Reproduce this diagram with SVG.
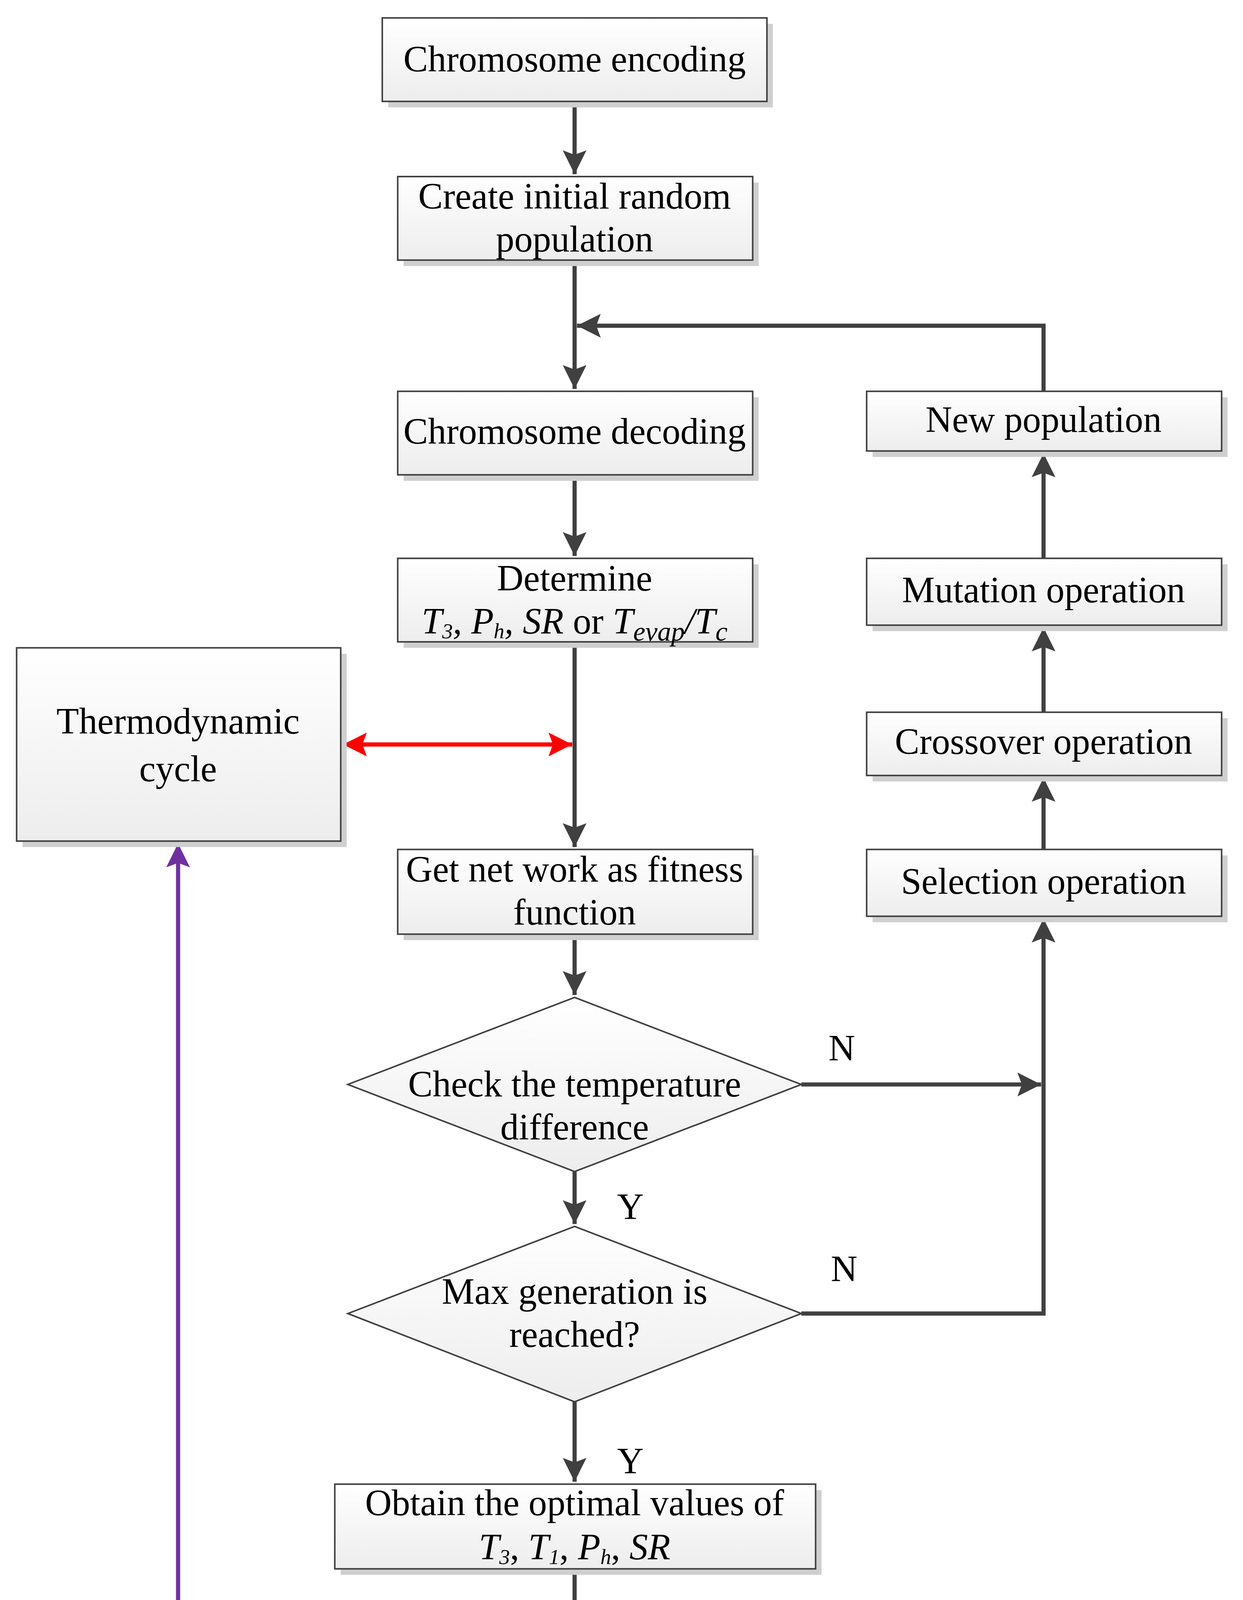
<svg xmlns="http://www.w3.org/2000/svg" width="3183" height="4789" viewBox="0 0 3183 4789">
<style>
.b{fill:url(#g);stroke:#404040;stroke-width:1.3}
.s{fill:#cfcfcf}
text{font-family:"Liberation Serif","Times New Roman",serif;font-size:31px;fill:#000;text-anchor:middle}
.i{font-style:italic}
.c{fill:none;stroke:#404040;stroke-width:3.5}
</style>
<defs>
<linearGradient id="g" x1="0" y1="0" x2="0" y2="1"><stop offset="0" stop-color="#ffffff"/><stop offset="1" stop-color="#ededed"/></linearGradient>
<marker id="a" markerUnits="userSpaceOnUse" markerWidth="20" markerHeight="20" refX="16" refY="8" orient="auto-start-reverse" viewBox="0 0 16 16"><path d="M0,0 L16,8 L0,16 L3,8 Z" fill="#404040"/></marker>
<marker id="r" markerUnits="userSpaceOnUse" markerWidth="20" markerHeight="20" refX="16" refY="8" orient="auto-start-reverse" viewBox="0 0 16 16"><path d="M0,0 L16,8 L0,16 L3,8 Z" fill="#ff0000"/></marker>
<marker id="p" markerUnits="userSpaceOnUse" markerWidth="20" markerHeight="20" refX="16" refY="8" orient="auto-start-reverse" viewBox="0 0 16 16"><path d="M0,0 L16,8 L0,16 L3,8 Z" fill="#7030a0"/></marker>
</defs>
<rect width="3183" height="4789" fill="#fff"/>
<g transform="scale(3.0401,3.0542)">
<g id="connectors">
<path class="c" d="M484,85V146" marker-end="url(#a)"/>
<path class="c" d="M484,218V326" marker-end="url(#a)"/>
<path class="c" d="M879,328V273H486" marker-end="url(#a)"/>
<path class="c" d="M484,398V466" marker-end="url(#a)"/>
<path class="c" d="M484,538V710" marker-end="url(#a)"/>
<path fill="none" stroke="#ff0000" stroke-width="3.5" d="M289,624H482" marker-start="url(#r)" marker-end="url(#r)"/>
<path class="c" d="M484,783V834" marker-end="url(#a)"/>
<path class="c" d="M675,909H877" marker-end="url(#a)"/>
<path class="c" d="M484,982V1026" marker-end="url(#a)"/>
<path class="c" d="M675,1101H879V770" marker-end="url(#a)"/>
<path class="c" d="M879,712V652" marker-end="url(#a)"/>
<path class="c" d="M879,597V526" marker-end="url(#a)"/>
<path class="c" d="M879,468V380" marker-end="url(#a)"/>
<path class="c" d="M484,1175V1242" marker-end="url(#a)"/>
<path class="c" d="M484,1315V1388" marker-end="url(#a)"/>
<path fill="none" stroke="#7030a0" stroke-width="3.5" d="M150,707V1352H482" marker-start="url(#p)" marker-end="url(#p)"/>
<text x="709" y="889">N</text>
<text x="711" y="1074">N</text>
<text x="531" y="1022">Y</text>
<text x="531" y="1235">Y</text>
</g>
<g id="n1"><rect class="s" x="327" y="20" width="324" height="70"/><rect class="b" x="322" y="15" width="324" height="70"/><text x="484" y="60">Chromosome encoding</text></g>
<g id="n2"><rect class="s" x="340" y="153" width="299" height="70"/><rect class="b" x="335" y="148" width="299" height="70"/><text x="484" y="175">Create initial random</text><text x="484" y="211">population</text></g>
<g id="n3"><rect class="s" x="340" y="333" width="299" height="70"/><rect class="b" x="335" y="328" width="299" height="70"/><text x="484" y="372">Chromosome decoding</text></g>
<g id="n4"><rect class="s" x="340" y="473" width="299" height="70"/><rect class="b" x="335" y="468" width="299" height="70"/><text x="484" y="495">Determine</text><text x="484" y="531"><tspan class="i">T</tspan><tspan class="i" font-size="18" dy="4">3</tspan><tspan class="i" dy="-4">, P</tspan><tspan class="i" font-size="18" dy="4">h</tspan><tspan class="i" dy="-4">, SR</tspan> or <tspan class="i">T</tspan><tspan class="i" font-size="23" dy="6">evap</tspan><tspan class="i" dy="-6">/T</tspan><tspan class="i" font-size="23" dy="6">c</tspan></text></g>
<g id="n5"><rect class="s" x="19" y="548" width="273" height="162"/><rect class="b" x="14" y="543" width="273" height="162"/><text x="150" y="615" font-size="38">Thermodynamic</text><text x="150" y="655" font-size="38">cycle</text></g>
<g id="n6"><rect class="s" x="340" y="717" width="299" height="71"/><rect class="b" x="335" y="712" width="299" height="71"/><text x="484" y="739">Get net work as fitness</text><text x="484" y="775">function</text></g>
<g id="n7"><path d="M484,836L675,909L484,982L293,909Z" class="b"/><text x="484" y="919">Check the temperature</text><text x="484" y="955">difference</text></g>
<g id="n8"><path d="M484,1028L675,1101L484,1175L293,1101Z" class="b"/><text x="484" y="1093">Max generation is</text><text x="484" y="1129">reached?</text></g>
<g id="n9"><rect class="s" x="287" y="1249" width="405" height="71"/><rect class="b" x="282" y="1244" width="405" height="71"/><text x="484" y="1270">Obtain the optimal values of</text><text x="484" y="1307"><tspan class="i">T</tspan><tspan class="i" font-size="18" dy="4">3</tspan><tspan dy="-4">, </tspan><tspan class="i">T</tspan><tspan class="i" font-size="18" dy="4">1</tspan><tspan dy="-4">, </tspan><tspan class="i">P</tspan><tspan class="i" font-size="18" dy="4">h</tspan><tspan dy="-4">, </tspan><tspan class="i">SR</tspan></text></g>
<g id="n10"><rect class="s" x="287" y="1395" width="405" height="162"/><rect class="b" x="282" y="1390" width="405" height="162"/><text x="484" y="1444">Obtain cycle efficiency, outlet</text><text x="484" y="1481">temperature of flue gas, mass</text><text x="484" y="1517">flow rate, etc</text></g>
<g id="n11"><rect class="s" x="735" y="333" width="299" height="50"/><rect class="b" x="730" y="328" width="299" height="50"/><text x="879" y="362">New population</text></g>
<g id="n12"><rect class="s" x="735" y="473" width="299" height="56"/><rect class="b" x="730" y="468" width="299" height="56"/><text x="879" y="505">Mutation operation</text></g>
<g id="n13"><rect class="s" x="735" y="602" width="299" height="53"/><rect class="b" x="730" y="597" width="299" height="53"/><text x="879" y="632">Crossover operation</text></g>
<g id="n14"><rect class="s" x="735" y="717" width="299" height="56"/><rect class="b" x="730" y="712" width="299" height="56"/><text x="879" y="749">Selection operation</text></g>
</g>
</svg>
